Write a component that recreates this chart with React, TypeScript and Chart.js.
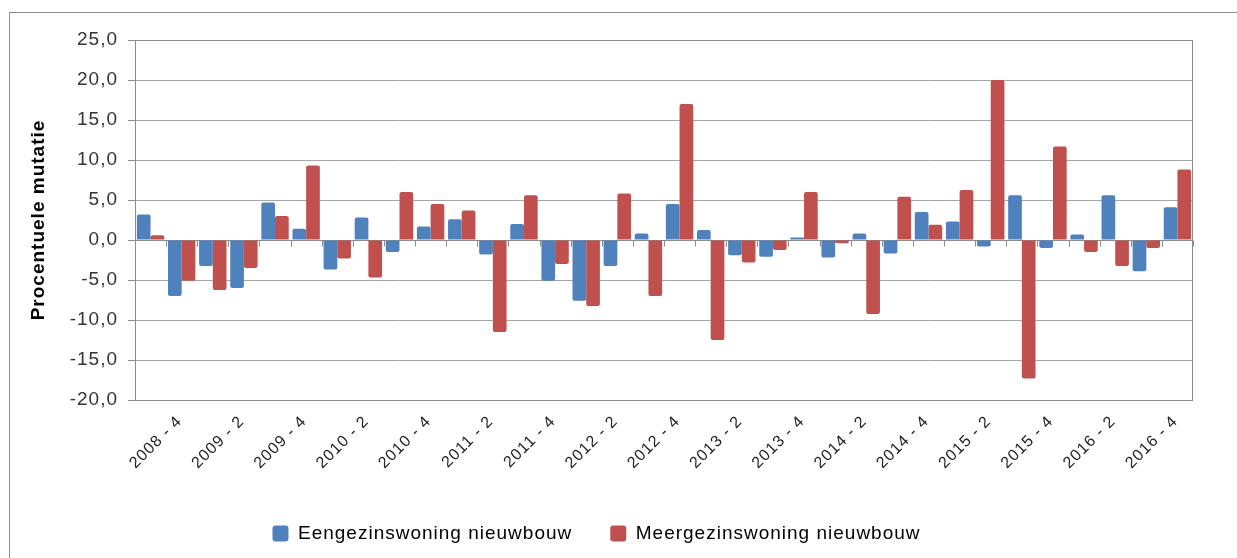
import { useEffect, useRef } from 'react';
import { Chart, registerables } from 'chart.js';

Chart.register(...registerables);

const quarters = [
  '2008 - 3', '2008 - 4',
  '2009 - 1', '2009 - 2', '2009 - 3', '2009 - 4',
  '2010 - 1', '2010 - 2', '2010 - 3', '2010 - 4',
  '2011 - 1', '2011 - 2', '2011 - 3', '2011 - 4',
  '2012 - 1', '2012 - 2', '2012 - 3', '2012 - 4',
  '2013 - 1', '2013 - 2', '2013 - 3', '2013 - 4',
  '2014 - 1', '2014 - 2', '2014 - 3', '2014 - 4',
  '2015 - 1', '2015 - 2', '2015 - 3', '2015 - 4',
  '2016 - 1', '2016 - 2', '2016 - 3', '2016 - 4',
];

const eengezinswoning = [
  3.2, -7.0, -3.25, -6.0, 4.7, 1.4, -3.7, 2.8, -1.5, 1.7,
  2.6, -1.8, 2.0, -5.1, -7.6, -3.25, 0.8, 4.5, 1.25, -1.9,
  -2.1, 0.3, -2.2, 0.8, -1.7, 3.5, 2.3, -0.8, 5.6, -1.0,
  0.7, 5.6, -3.9, 4.1,
];

const meergezinswoning = [
  0.6, -5.1, -6.25, -3.5, 3.0, 9.3, -2.3, -4.7, 6.0, 4.5,
  3.7, -11.5, 5.6, -3.0, -8.25, 5.8, -7.0, 17.0, -12.5, -2.8,
  -1.25, 6.0, -0.4, -9.25, 5.4, 1.9, 6.25, 20.0, -17.3, 11.7,
  -1.5, -3.25, -1.0, 8.8,
];

const seriesNames = ['Eengezinswoning nieuwbouw', 'Meergezinswoning nieuwbouw'];
const seriesColors = ['#4F81BD', '#C0504D'];
const yMin = -20;
const yMax = 25;
const yStep = 5;
const yTitle = 'Procentuele mutatie';

const FONT = "'Liberation Sans', Arial, sans-serif";

const framePlugin = {
  id: 'framePlugin',
  beforeUpdate(chart: any) {
    (chart.ctx as any).letterSpacing = '1px';
  },
  beforeDraw(chart: any) {
    const ctx = chart.ctx;
    (ctx as any).letterSpacing = '1px';
    ctx.save();
    ctx.fillStyle = '#ffffff';
    ctx.fillRect(0, 0, chart.width, chart.height);
    ctx.strokeStyle = '#8e8e8e';
    ctx.lineWidth = 1;
    ctx.strokeRect(9.5, 12.5, chart.width + 20, chart.height + 20);
    ctx.restore();
  },
  beforeDatasetsDraw(chart: any) {
    const ctx = chart.ctx;
    const x = chart.scales.x;
    const y = chart.scales.y;
    const y0 = Math.round(y.getPixelForValue(0)) + 0.5;
    const n = quarters.length;
    ctx.save();
    ctx.strokeStyle = '#8c8c8c';
    ctx.lineWidth = 1;
    ctx.beginPath();
    ctx.moveTo(chart.chartArea.left, y0);
    ctx.lineTo(chart.chartArea.right, y0);
    const w = (x.getPixelForValue(n - 1) - x.getPixelForValue(0)) / (n - 1);
    for (let i = 0; i <= n; i++) {
      const bx = Math.round(x.getPixelForValue(0) - w / 2 + i * w) + 0.5;
      ctx.moveTo(bx, y0);
      ctx.lineTo(bx, y0 + 6);
    }
    ctx.stroke();
    ctx.restore();
  },
  afterDatasetsDraw(chart: any) {
    const ctx = chart.ctx;
    const a = chart.chartArea;
    ctx.save();
    ctx.strokeStyle = '#8c8c8c';
    ctx.lineWidth = 1;
    ctx.strokeRect(Math.round(a.left) + 0.5, Math.round(a.top) + 0.5,
      Math.round(a.right - a.left) - 1, Math.round(a.bottom - a.top));
    ctx.restore();
  },
};

export default function App() {
  const canvasRef = useRef<HTMLCanvasElement | null>(null);

  useEffect(() => {
    if (!canvasRef.current) return;
    const chart = new Chart(canvasRef.current, {
      type: 'bar',
      data: {
        labels: quarters,
        datasets: [
          {
            label: seriesNames[0],
            data: eengezinswoning,
            backgroundColor: seriesColors[0],
            borderWidth: 0,
            borderRadius: 2,
            categoryPercentage: 0.88,
            barPercentage: 1.0,
          },
          {
            label: seriesNames[1],
            data: meergezinswoning,
            backgroundColor: seriesColors[1],
            borderWidth: 0,
            borderRadius: 2,
            categoryPercentage: 0.88,
            barPercentage: 1.0,
          },
        ],
      },
      options: {
        animation: false,
        responsive: true,
        maintainAspectRatio: false,
        layout: { padding: { top: 40, right: 44, bottom: 5, left: 0 } },
        plugins: {
          tooltip: { enabled: false },
          legend: {
            display: true,
            position: 'bottom',
            labels: {
              font: { family: FONT, size: 19 },
              color: '#000',
              boxWidth: 16,
              boxHeight: 16,
              padding: 38,
              useBorderRadius: true,
              borderRadius: 3,
            },
          },
        },
        scales: {
          x: {
            grid: { display: false, drawTicks: false },
            border: { display: false },
            afterFit(scale: any) {
              scale.height = 86;
            },
            ticks: {
              autoSkip: false,
              maxRotation: 45,
              minRotation: 45,
              padding: 12,
              labelOffset: -2,
              color: '#222',
              font: { family: FONT, size: 16 },
              callback: (_v: any, i: number) => (i % 2 === 1 ? quarters[i] : ''),
            },
          },
          y: {
            min: yMin,
            max: yMax,
            afterFit(scale: any) {
              scale.width = 135;
            },
            grid: {
              color: '#a6a6a6',
              tickLength: 7,
              tickColor: '#8c8c8c',
              drawTicks: true,
            },
            border: { display: false },
            ticks: {
              stepSize: yStep,
              padding: 10,
              color: '#333',
              font: { family: FONT, size: 19 },
              callback: (v: any) => Number(v).toFixed(1).replace('.', ','),
            },
            title: {
              display: true,
              text: yTitle,
              color: '#000',
              font: { family: FONT, size: 19, weight: 'bold' },
              padding: { top: 27, bottom: 0 },
            },
          },
        },
      },
      plugins: [framePlugin],
    } as any);
    return () => chart.destroy();
  }, []);

  return (
    <div style={{ position: 'fixed', left: 0, top: 0, width: 1237, height: 558, background: '#fff' }}>
      <canvas ref={canvasRef} />
    </div>
  );
}
